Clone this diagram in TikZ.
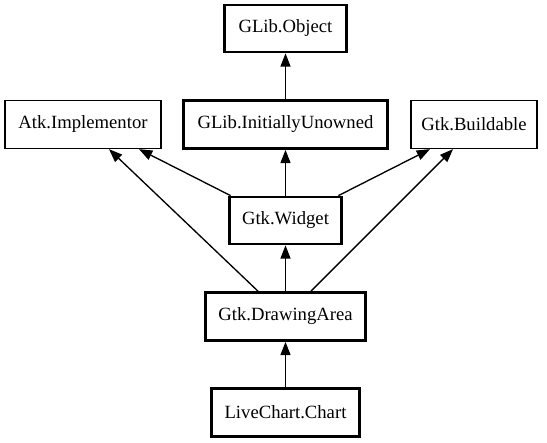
\documentclass[tikz,border=0pt]{standalone}
\usepackage{fontspec}
\setmainfont{Liberation Serif}
\usetikzlibrary{arrows.meta}
\begin{document}
\begin{tikzpicture}[x=1pt,y=-1pt,
  cls/.style={draw=black, line width=1.33pt, minimum height=48pt, inner sep=0pt,
    font=\fontsize{18.67}{22}\selectfont},
  bold/.style={cls, line width=2.67pt},
  inh/.style={line width=1.33pt, -{Triangle[length=13.3pt,width=10pt]}}]
\useasboundingbox (0,0) rectangle (547,443);
\node[bold, minimum width=122pt, minimum height=47pt] (obj) at (285.5,28.5) {GLib.Object};
\node[cls, minimum width=156pt] (atk) at (83,124.5) {Atk.Implementor};
\node[bold, minimum width=204pt] (iu) at (285.5,124.5) {GLib.InitiallyUnowned};
\node[cls, minimum width=126pt] (bld) at (474,124.5) {Gtk.Buildable};
\node[bold, minimum width=112pt, minimum height=47pt] (wid) at (285.5,220.5) {Gtk.Widget};
\node[bold, minimum width=160pt] (da) at (285.5,316.5) {Gtk.DrawingArea};
\node[bold, minimum width=148pt] (lc) at (285.5,412.5) {LiveChart.Chart};
\draw[inh] (iu.north) -- (obj.south);
\draw[inh] (wid.north) -- (iu.south);
\draw[inh] ([xshift=2.5pt]wid.north west) -- ([xshift=56pt]atk.south);
\draw[inh] ([xshift=-4.5pt]wid.north east) -- ([xshift=-44pt]bld.south);
\draw[inh] (da.north) -- (wid.south);
\draw[inh] ([xshift=-27.5pt]da.north) -- ([xshift=26pt]atk.south);
\draw[inh] ([xshift=25.5pt]da.north) -- ([xshift=-21pt]bld.south);
\draw[inh] (lc.north) -- (da.south);
\end{tikzpicture}
\end{document}
